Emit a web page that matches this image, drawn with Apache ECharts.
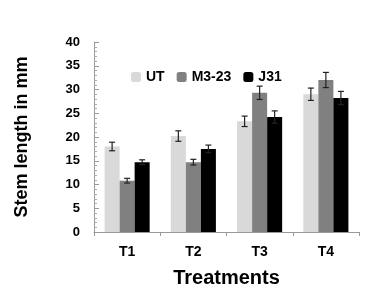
<!DOCTYPE html>
<html><head><meta charset="utf-8">
<script src="https://cdn.jsdelivr.net/npm/echarts@6/dist/echarts.min.js"></script>
<style>html,body{margin:0;padding:0;background:#fff}#c{width:367px;height:297px}</style>
</head><body><div id="c"></div>
<script>
const categories = ['T1', 'T2', 'T3', 'T4'];
const seriesNames = ['UT', 'M3-23', 'J31'];
const utValues = [18.0, 20.2, 23.3, 29.0];
const m323Values = [10.8, 14.7, 29.3, 32.0];
const j31Values = [14.7, 17.5, 24.2, 28.2];
const utErr = [0.9, 1.1, 1.1, 1.3];
const m323Err = [0.5, 0.6, 1.4, 1.6];
const j31Err = [0.5, 0.8, 1.3, 1.4];
const yTicks = [0, 5, 10, 15, 20, 25, 30, 35, 40];

const colors = ['#d9d9d9', '#808080', '#000000'];
const values = [utValues, m323Values, j31Values];
const errs = [utErr, m323Err, j31Err];
const catGap = 0.32;
const font = 'Liberation Sans, Arial, sans-serif';

const chart = echarts.init(document.getElementById('c'));
const series = [];
values.forEach((vals, si) => {
  series.push({
    name: seriesNames[si], type: 'bar', data: vals,
    itemStyle: { color: colors[si] },
    barGap: '0%', barCategoryGap: (catGap * 100) + '%'
  });
});
values.forEach((vals, si) => {
  series.push({
    type: 'custom', silent: true, z: 10,
    data: vals.map((v, i) => [i, v, errs[si][i]]),
    renderItem: function (params, api) {
      const ci = api.value(0), v = api.value(1), e = api.value(2);
      const catW = api.size([1, 0])[0];
      const bw = catW * (1 - catGap) / 3;
      const c = api.coord([ci, v]);
      const x = c[0] + (si - 1) * bw;
      const top = api.coord([ci, v + e])[1];
      const bot = api.coord([ci, v - e])[1];
      const cap = 3;
      const st = { stroke: '#222', lineWidth: 1.2 };
      return { type: 'group', children: [
        { type: 'line', shape: { x1: x, y1: top, x2: x, y2: bot }, style: st },
        { type: 'line', shape: { x1: x - cap, y1: top, x2: x + cap, y2: top }, style: st },
        { type: 'line', shape: { x1: x - cap, y1: bot, x2: x + cap, y2: bot }, style: st }
      ]};
    }
  });
});

chart.setOption({
  animation: false,
  textStyle: { fontFamily: font },
  grid: { left: 94, right: 8, top: 42, bottom: 65 },
  legend: {
    data: seriesNames, left: 126, top: 65, itemWidth: 10, itemHeight: 10, itemGap: 12,
    textStyle: { fontWeight: 'bold', fontSize: 14, color: '#000', fontFamily: font }
  },
  xAxis: {
    type: 'category', data: categories,
    name: 'Treatments', nameLocation: 'middle', nameGap: 36,
    nameTextStyle: { fontWeight: 'bold', fontSize: 20, color: '#000', fontFamily: font },
    axisLine: { lineStyle: { color: '#999' } },
    axisTick: { show: true, length: 4, lineStyle: { color: '#999' } },
    axisLabel: { fontWeight: 'bold', fontSize: 14, color: '#000', margin: 13 }
  },
  yAxis: {
    type: 'value', min: yTicks[0], max: yTicks[yTicks.length - 1], interval: 5,
    name: 'Stem length in mm', nameLocation: 'middle', nameGap: 63,
    nameTextStyle: { fontWeight: 'bold', fontSize: 18, color: '#000', fontFamily: font },
    axisLine: { show: true, lineStyle: { color: '#999' } },
    axisTick: { show: true, inside: true, length: 5, lineStyle: { color: '#999' } },
    minorTick: { show: true, splitNumber: 5, length: 3, lineStyle: { color: '#aaa' } },
    splitLine: { show: false },
    axisLabel: { fontWeight: 'bold', fontSize: 13, color: '#000', margin: 14 }
  },
  series: series
});
</script></body></html>
